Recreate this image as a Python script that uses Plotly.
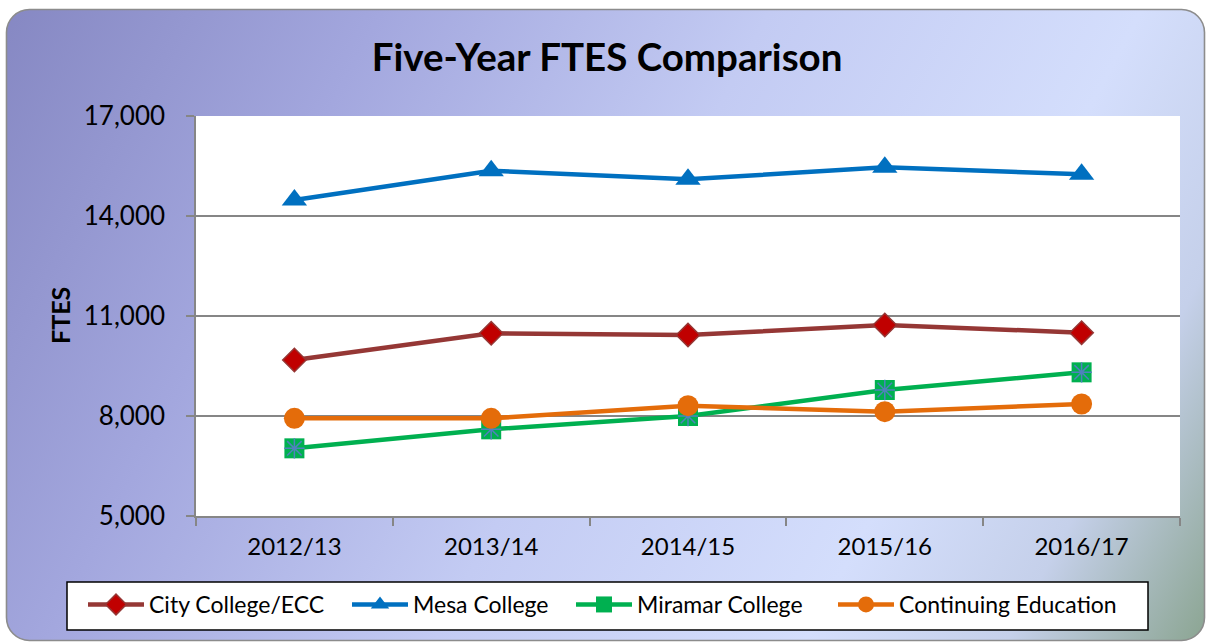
import plotly.graph_objects as go
import urllib.parse

years = ["2012/13", "2013/14", "2014/15", "2015/16", "2016/17"]
city = [9680, 10480, 10430, 10730, 10500]
mesa = [14480, 15360, 15100, 15460, 15250]
miramar = [7030, 7600, 8000, 8780, 9310]
continuing = [7930, 7930, 8310, 8130, 8360]
y_ticks = [5000, 8000, 11000, 14000, 17000]

W, H = 1207, 644
L, R, T, B = 196, 27, 116, 128
PW, PH = W - L - R, H - T - B

FONT = "Lato"

fig = go.Figure()

fig.add_trace(go.Scatter(x=years, y=city, name="City College/ECC", mode="lines+markers",
                         legend="legend",
                         line=dict(color="#953735", width=4.5),
                         marker=dict(symbol="diamond", size=18, color="#c00000",
                                     line=dict(color="#953735", width=1.5))))
fig.add_trace(go.Scatter(x=years, y=mesa, name="Mesa College", mode="lines+markers",
                         legend="legend2",
                         line=dict(color="#0070c0", width=4.5),
                         marker=dict(symbol="triangle-up", size=22, color="#0070c0",
                                     line=dict(width=0))))
fig.add_trace(go.Scatter(x=years, y=miramar, name="Miramar College", mode="lines+markers",
                         legend="legend3",
                         line=dict(color="#00b050", width=4.5),
                         marker=dict(symbol="square", size=20, color="#00b050",
                                     line=dict(width=0))))
fig.add_trace(go.Scatter(x=years, y=miramar, name="Miramar College", mode="markers",
                         showlegend=False, hoverinfo="skip",
                         marker=dict(symbol="asterisk-open", size=17, color="#4f81bd",
                                     line=dict(color="#4f81bd", width=1.5))))
fig.add_trace(go.Scatter(x=years, y=continuing, name="Continuing Education", mode="lines+markers",
                         legend="legend4",
                         line=dict(color="#e46c0a", width=4.5),
                         marker=dict(symbol="circle", size=21, color="#e46c0a",
                                     line=dict(width=0))))

svg = (
    f"<svg xmlns='http://www.w3.org/2000/svg' width='{W}' height='{H}' viewBox='0 0 {W} {H}'>"
    f"<defs><linearGradient id='g' gradientUnits='userSpaceOnUse' x1='0' y1='0' x2='{W}' y2='{H}'>"
    "<stop offset='0' stop-color='#8587c2'/>"
    "<stop offset='0.25' stop-color='#a3a7de'/>"
    "<stop offset='0.5' stop-color='#c3cbf3'/>"
    "<stop offset='0.74' stop-color='#d4defc'/>"
    "<stop offset='0.87' stop-color='#c5d0ea'/>"
    "<stop offset='1' stop-color='#8aa490'/>"
    "</linearGradient></defs>"
    "<rect x='6.5' y='9.5' width='1198' height='631' rx='23' ry='23' fill='url(#g)' "
    "stroke='#8c8c8c' stroke-width='1.6'/></svg>"
)
src = "data:image/svg+xml;charset=utf-8," + urllib.parse.quote(svg)

fig.add_layout_image(dict(source=src, xref="paper", yref="paper",
                          x=-L / PW, y=1 + T / PH, sizex=W / PW, sizey=H / PH,
                          xanchor="left", yanchor="top", sizing="stretch", layer="below"))
fig.add_shape(type="rect", xref="paper", yref="paper", x0=0, x1=1, y0=0, y1=1,
              fillcolor="white", line=dict(width=0), layer="below")
# legend frame
fig.add_shape(type="rect", xref="paper", yref="paper",
              x0=(67 - L) / PW, x1=(1148 - L) / PW,
              y0=(T + PH - 630) / PH, y1=(T + PH - 582) / PH,
              fillcolor="white", line=dict(color="black", width=1.5), layer="above")

def leg(xpix):
    return dict(orientation="h", xref="container", yref="container",
                x=(xpix - 7) / W, xanchor="left", y=1 - 583 / H, yanchor="top",
                bgcolor="rgba(0,0,0,0)", borderwidth=0,
                font=dict(size=23, family=FONT, color="black"),
                itemwidth=56)

fig.update_layout(
    width=W, height=H,
    margin=dict(l=L, r=R, t=T, b=B),
    paper_bgcolor="white",
    plot_bgcolor="rgba(0,0,0,0)",
    font=dict(family=FONT, color="black"),
    title=dict(text="<b>Five-Year FTES Comparison</b>", x=0.503, xref="container",
               y=1 - 58 / H, yref="container", xanchor="center", yanchor="middle",
               font=dict(size=38.5, family=FONT, color="black")),
    showlegend=True,
    legend=leg(90), legend2=leg(354), legend3=leg(578), legend4=leg(840),
    annotations=[dict(text="<b>FTES</b>", textangle=-90, xref="paper", yref="paper",
                      x=(60 - L) / PW, y=0.5, xanchor="center", yanchor="middle",
                      showarrow=False, font=dict(size=25, family=FONT, color="black"))],
)

fig.update_xaxes(type="category", range=[-0.5, 4.5], tickson="boundaries",
                 ticks="outside", ticklen=8, tickcolor="#868686", tickwidth=1.5,
                 showline=True, linecolor="#868686", linewidth=1.5,
                 showgrid=False, ticklabelstandoff=8,
                 tickfont=dict(size=24, family=FONT, color="black"))
fig.update_yaxes(range=[5000, 17000], tickvals=y_ticks, tickformat=",",
                 ticks="outside", ticklen=8, tickcolor="#868686", tickwidth=1.5,
                 showline=True, linecolor="#868686", linewidth=1.5,
                 showgrid=True, gridcolor="#868686", gridwidth=1.5, zeroline=False,
                 ticklabelstandoff=16,
                 tickfont=dict(size=26, family=FONT, color="black"))

fig.write_html("out.html", config={"displayModeBar": False},
               post_script="document.body.style.margin='0';document.body.style.overflow='hidden';")
